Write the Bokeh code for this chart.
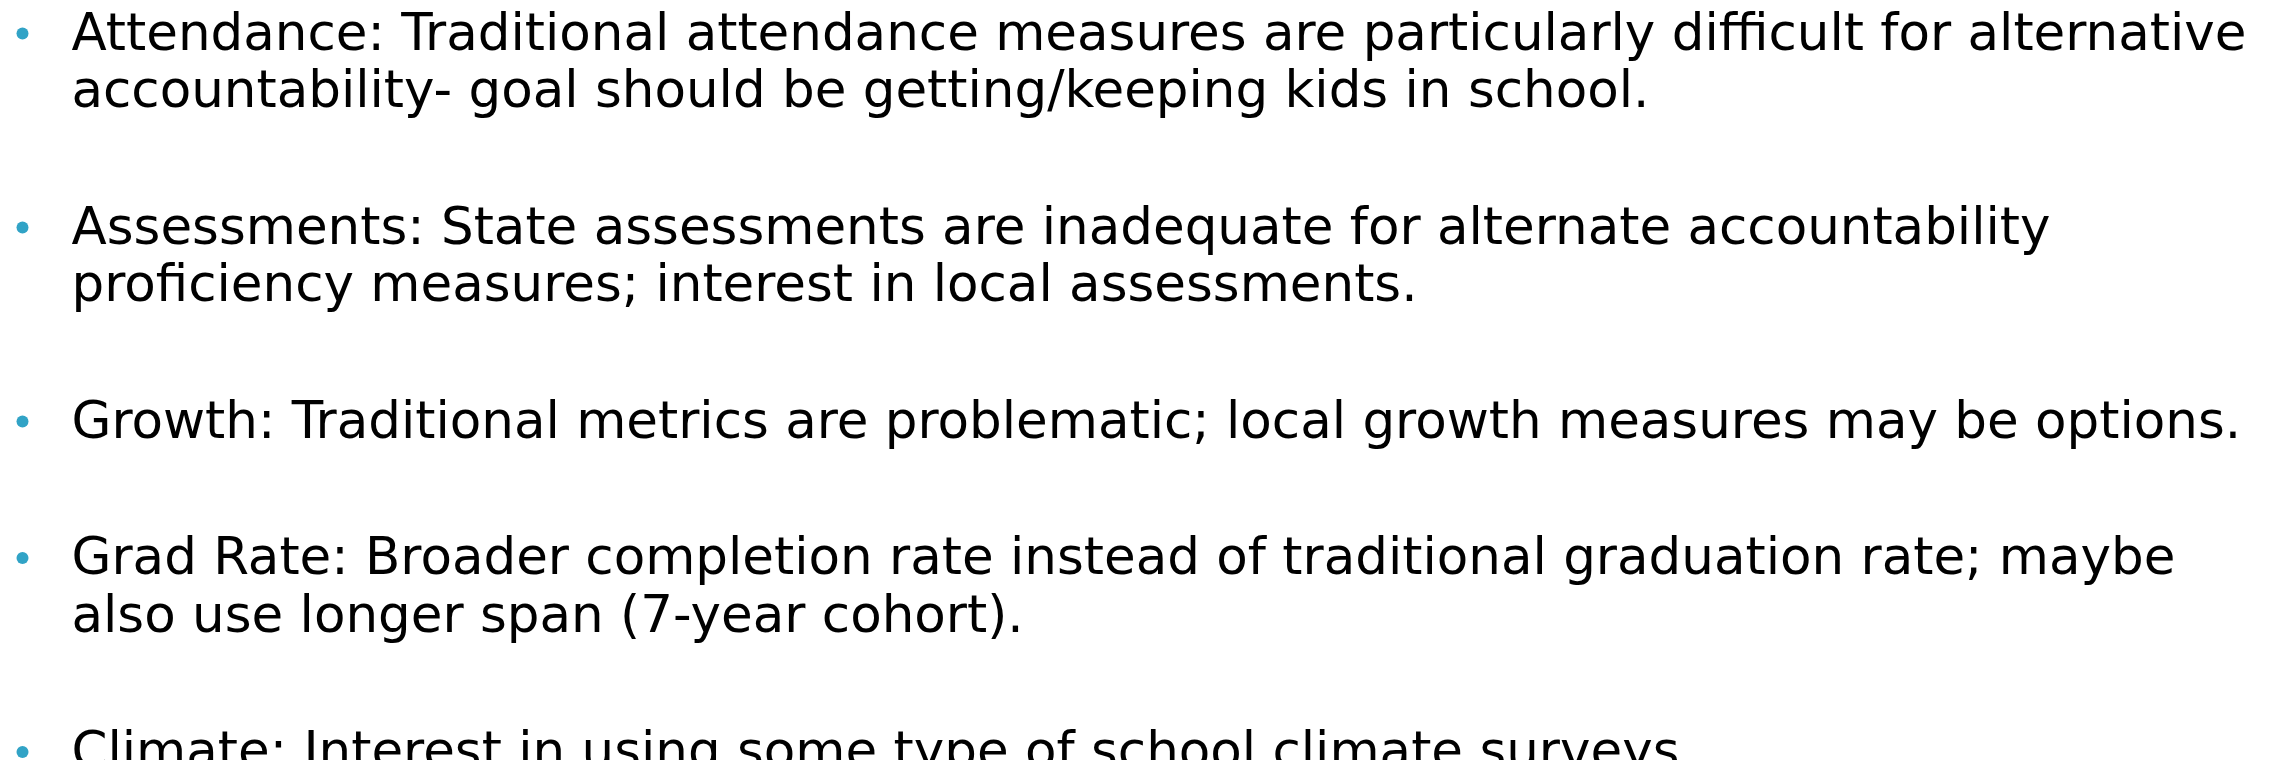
from bokeh.plotting import figure
from bokeh.models import Range1d, ColumnDataSource
from bokeh.core.properties import value
from bokeh.embed import file_html
from bokeh.resources import INLINE

# ---- content ----
bullet_lines = [
    ["Attendance: Traditional attendance measures are particularly difficult for alternative",
     "accountability- goal should be getting/keeping kids in school."],
    ["Assessments: State assessments are inadequate for alternate accountability",
     "proficiency measures; interest in local assessments."],
    ["Growth: Traditional metrics are problematic; local growth measures may be options."],
    ["Grad Rate: Broader completion rate instead of traditional graduation rate; maybe",
     "also use longer span (7-year cohort)."],
    ["Climate: Interest in using some type of school climate surveys."],
]

# ---- layout (figure pixel units, y downwards) ----
W, H = 2264, 760
FIRST_BASELINE = 41.0
LINE_STEP = 57.5
PARA_STEP = 136.5
TEXT_DY = -10
TEXT_X = 71
BULLET_X = 22
BULLET_DY = -8
FONT_SIZE = "51.5px"
BULLET_COLOR = "#31a3c6"

tx, ty, tt = [], [], []
bx, by = [], []
y = FIRST_BASELINE
for lines in bullet_lines:
    bx.append(BULLET_X)
    by.append(y + BULLET_DY)
    for i, line in enumerate(lines):
        if i > 0:
            y += LINE_STEP
        tx.append(TEXT_X)
        ty.append(y + TEXT_DY)
        tt.append(line)
    y += PARA_STEP

p = figure(width=W, height=H, output_backend="svg", toolbar_location=None,
           x_range=Range1d(0, W), y_range=Range1d(H, 0),
           x_axis_location=None, y_axis_location=None, min_border=0)
p.grid.visible = False
p.outline_line_color = None
p.background_fill_color = "white"
p.border_fill_color = "white"

p.text(x="x", y="y", text="t", source=ColumnDataSource(dict(x=tx, y=ty, t=tt)),
       text_font=value("DejaVu Sans"), text_font_size=FONT_SIZE,
       text_color="black", text_align="left", text_baseline="alphabetic")
p.scatter(x=bx, y=by, size=12, marker="circle", fill_color=BULLET_COLOR, line_color=None)

open("out.html", "w").write(file_html(p, INLINE))
